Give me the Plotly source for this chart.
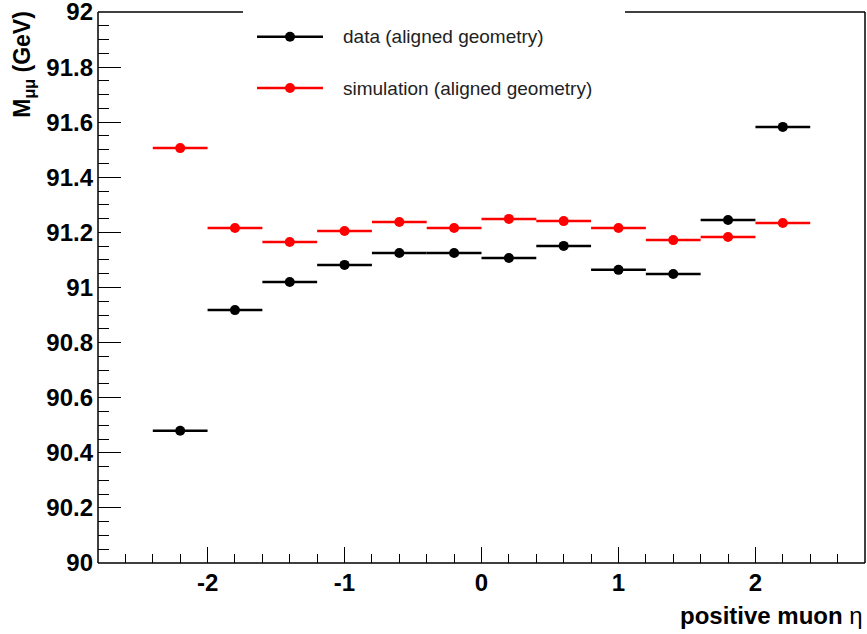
import plotly.graph_objects as go

# Bin centres in positive muon pseudorapidity (bin width 0.4)
eta_centres = [-2.2, -1.8, -1.4, -1.0, -0.6, -0.2, 0.2, 0.6, 1.0, 1.4, 1.8, 2.2]
half_width = [0.2] * len(eta_centres)

# Fitted dimuon mass per bin (GeV)
mass_data = [90.48, 90.918, 91.02, 91.082, 91.125, 91.125, 91.107, 91.151, 91.064, 91.049, 91.245, 91.583]
mass_sim = [91.506, 91.216, 91.165, 91.205, 91.238, 91.216, 91.249, 91.241, 91.216, 91.172, 91.183, 91.234]

series_names = ["data (aligned geometry)", "simulation (aligned geometry)"]
series_colors = ["#000000", "#ff0000"]

# Axis tick labels (plain hyphen for negatives)
x_tickvals = [-2, -1, 0, 1, 2]
x_ticktext = ["-2", "-1", "0", "1", "2"]
y_tickvals = [90, 90.2, 90.4, 90.6, 90.8, 91, 91.2, 91.4, 91.6, 91.8, 92]
y_ticktext = ["90", "90.2", "90.4", "90.6", "90.8", "91", "91.2", "91.4", "91.6", "91.8", "92"]

FONT = "Liberation Sans, Arial, sans-serif"
PLOT_W = 767  # plot-area width in px

def px_to_paper_x(px):
    return (px - 98) / PLOT_W

fig = go.Figure()
for name, vals, col in zip(series_names, [mass_data, mass_sim], series_colors):
    fig.add_trace(go.Scatter(
        x=eta_centres, y=vals, mode="markers", name=name,
        marker=dict(color=col, size=10, symbol="circle"),
        error_x=dict(type="data", array=half_width, width=0, thickness=2.5, color=col),
        showlegend=False,
    ))

# Legend drawn by hand: line + marker + label
legend_y = [0.955, 0.862]
for name, col, ly in zip(series_names, series_colors, legend_y):
    fig.add_shape(type="line", xref="paper", yref="paper",
                  x0=px_to_paper_x(257), x1=px_to_paper_x(323), y0=ly, y1=ly,
                  line=dict(color=col, width=2.5))
    fig.add_shape(type="circle", xref="paper", yref="paper",
                  xsizemode="pixel", ysizemode="pixel",
                  xanchor=px_to_paper_x(290), yanchor=ly,
                  x0=-5, x1=5, y0=-5, y1=5,
                  fillcolor=col, line=dict(color=col, width=0))
    fig.add_annotation(xref="paper", yref="paper", x=px_to_paper_x(341), y=ly,
                       xanchor="left", yanchor="middle", text=name, showarrow=False,
                       font=dict(size=19, color="#222222", family=FONT))

# Frame; the top edge is interrupted behind the legend
frame = dict(color="black", width=1.5)
for x0, y0, x1, y1 in [(0, 0, 0, 1), (0, 0, 1, 0), (1, 0, 1, 1),
                       (0, 1, px_to_paper_x(243), 1), (px_to_paper_x(625), 1, 1, 1)]:
    fig.add_shape(type="line", xref="paper", yref="paper",
                  x0=x0, y0=y0, x1=x1, y1=y1, line=frame)

fig.add_annotation(xref="paper", yref="paper", x=1.0, y=-0.068,
                   xanchor="right", yanchor="top", showarrow=False,
                   text="<b>positive muon</b> \u03b7",
                   font=dict(size=24, color="black", family=FONT))
fig.add_annotation(xref="paper", yref="paper", x=-0.097, y=1.006,
                   xanchor="center", yanchor="top", textangle=-90, showarrow=False,
                   text="<b>M<sub>\u03bc\u03bc</sub> (GeV)</b>",
                   font=dict(size=23, color="black", family=FONT))

tickfont = dict(size=24, family="Liberation Sans", weight="bold", color="black")
fig.update_layout(
    width=867, height=634,
    margin=dict(l=98, r=2, t=12, b=71, autoexpand=False),
    plot_bgcolor="white", paper_bgcolor="white",
    font=dict(family=FONT, color="black"),
    xaxis=dict(
        range=[-2.8, 2.8], showgrid=False, zeroline=False, showline=False,
        automargin=False,
        tickmode="array", tickvals=x_tickvals, ticktext=x_ticktext,
        ticks="inside", ticklen=16, tickwidth=1, tickcolor="black",
        tickfont=tickfont, ticklabelstandoff=3, ticklabeloverflow="allow",
        minor=dict(dtick=0.2, tick0=0, ticks="inside", ticklen=9, tickcolor="black", tickwidth=1),
    ),
    yaxis=dict(
        range=[90, 92], showgrid=False, zeroline=False, showline=False,
        automargin=False,
        tickmode="array", tickvals=y_tickvals, ticktext=y_ticktext,
        ticks="inside", ticklen=23, tickwidth=1, tickcolor="black",
        tickfont=tickfont, ticklabelstandoff=4, ticklabeloverflow="allow",
        minor=dict(dtick=0.05, tick0=90, ticks="inside", ticklen=11, tickcolor="black", tickwidth=1),
    ),
)

fig.write_html("out.html")
